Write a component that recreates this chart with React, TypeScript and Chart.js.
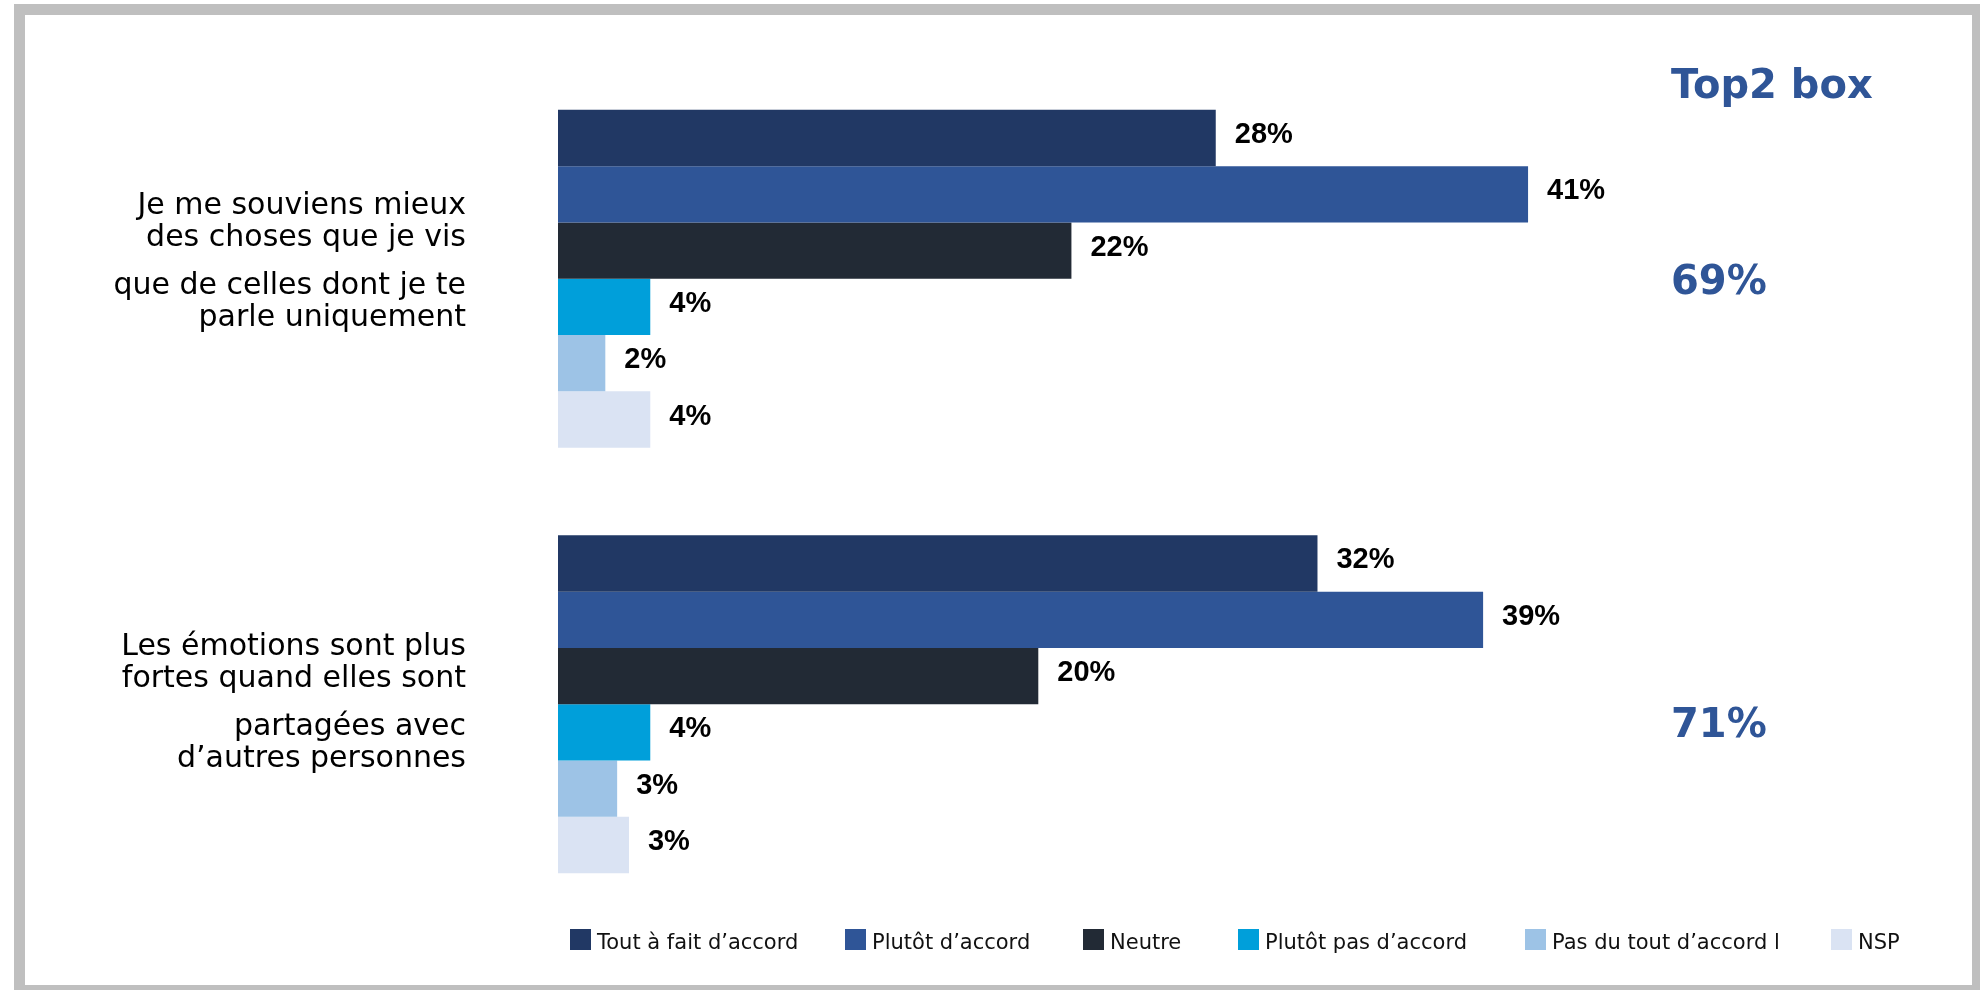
import React, { useEffect, useRef } from "react";
import { Chart, registerables } from "chart.js";

Chart.register(...registerables);

// ---- data ----
const categories: string[][] = [
  ["Je me souviens mieux", "des choses que je vis", "que de celles dont je te", "parle uniquement"],
  ["Les émotions sont plus", "fortes quand elles sont", "partagées avec", "d’autres personnes"],
];
const seriesNames: string[] = [
  "Tout à fait d’accord",
  "Plutôt d’accord",
  "Neutre",
  "Plutôt pas d’accord",
  "Pas du tout d’accord l",
  "NSP",
];
const toutAFaitDAccord: number[] = [27.8, 32.1];
const plutotDAccord: number[] = [41.0, 39.1];
const neutre: number[] = [21.7, 20.3];
const plutotPasDAccord: number[] = [3.9, 3.9];
const pasDuToutDAccord: number[] = [2.0, 2.5];
const nsp: number[] = [3.9, 3.0];
const topTwoTitle = "Top2 box";
const topTwoValues: number[] = [69, 71];

// ---- styles / layout ----
const seriesColors = ["#213864", "#2F5597", "#222A35", "#009FDA", "#9DC3E6", "#DAE3F3"];
const legendLeft = [570, 845, 1083, 1238, 1525, 1831];
const topTwoOffsets = [15, 33];
const labelShift = [-1, 1]; // shift each tick label block by half a line (up / down)
const FONT = "'DejaVu Sans', 'Noto Sans', sans-serif";

// lay the four lines out as two tight pairs separated by a wider gap
function tickLines(index: number): string[] {
  const l = categories[index] || [];
  const body = [l[0], "", l[1], "", "", l[2], "", l[3]];
  return labelShift[index] < 0 ? [...body, ""] : ["", ...body];
}

const overlayPlugin = {
  id: "overlayLabels",
  afterDatasetsDraw(chart: any) {
    const ctx = chart.ctx as CanvasRenderingContext2D;
    ctx.save();
    ctx.font = "bold 29px 'Liberation Sans', Arial, sans-serif";
    ctx.fillStyle = "#000000";
    ctx.textAlign = "left";
    ctx.textBaseline = "middle";
    chart.data.datasets.forEach((ds: any, di: number) => {
      const meta = chart.getDatasetMeta(di);
      meta.data.forEach((bar: any, i: number) => {
        const v = ds.data[i] as number;
        ctx.fillText(Math.round(v) + "%", bar.x + 19, bar.y - 3);
      });
    });
    const yScale = chart.scales.y;
    ctx.font = `bold 40px ${FONT}`;
    ctx.fillStyle = "#2F5597";
    ctx.textBaseline = "alphabetic";
    ctx.fillText(topTwoTitle, 1671, 98);
    topTwoValues.forEach((v, i) => {
      ctx.fillText(v + "%", 1671, yScale.getPixelForValue(i) + topTwoOffsets[i]);
    });
    ctx.restore();
  },
};

function BarChart() {
  const canvasRef = useRef<HTMLCanvasElement | null>(null);

  useEffect(() => {
    if (!canvasRef.current) return;
    const series = [toutAFaitDAccord, plutotDAccord, neutre, plutotPasDAccord, pasDuToutDAccord, nsp];
    const chart = new Chart(canvasRef.current, {
      type: "bar",
      data: {
        labels: categories,
        datasets: series.map((d, i) => ({
          label: seriesNames[i],
          data: d,
          backgroundColor: seriesColors[i],
          borderWidth: 0,
        })),
      },
      options: {
        indexAxis: "y",
        animation: false,
        responsive: false,
        maintainAspectRatio: false,
        layout: { padding: { left: 0, right: 239, top: 66, bottom: 73 } },
        datasets: { bar: { categoryPercentage: 0.794, barPercentage: 1 } },
        scales: {
          x: { display: false, min: 0, max: 50 },
          y: {
            grid: { display: false, drawTicks: false },
            border: { display: false },
            afterFit: (s: any) => {
              s.width = 558;
              s.paddingTop = 0;
              s.paddingBottom = 0;
            },
            ticks: {
              padding: 92,
              color: "#000000",
              labelOffset: -9,
              callback: (_v: any, index: number) => tickLines(index),
              font: { family: FONT, size: 30, lineHeight: "16px" },
            },
          },
        },
        plugins: {
          legend: { display: false },
          tooltip: { enabled: false },
        },
      } as any,
      plugins: [overlayPlugin],
    });
    return () => chart.destroy();
  }, []);

  return (
    <canvas
      ref={canvasRef}
      width={1980}
      height={990}
      style={{ position: "absolute", left: 0, top: 0, width: 1980, height: 990 }}
    />
  );
}

export default function App() {
  return (
    <div
      style={{
        position: "absolute",
        left: 0,
        top: 0,
        width: 1980,
        height: 990,
        overflow: "hidden",
        background: "#ffffff",
      }}
    >
      <div
        style={{
          position: "absolute",
          left: 14,
          top: 4,
          width: 1969,
          height: 992,
          border: "11px solid #BFBFBF",
          boxSizing: "border-box",
          background: "#ffffff",
        }}
      />
      <BarChart />
      {seriesNames.map((name, i) => (
        <div
          key={name}
          style={{
            position: "absolute",
            left: legendLeft[i],
            top: 929,
            height: 21,
            display: "flex",
            alignItems: "center",
            whiteSpace: "nowrap",
          }}
        >
          <span style={{ display: "inline-block", width: 21, height: 21, background: seriesColors[i] }} />
          <span
            style={{
              marginLeft: 6,
              font: `21px ${FONT}`,
              color: "#111111",
              position: "relative",
              top: 2,
            }}
          >
            {name}
          </span>
        </div>
      ))}
    </div>
  );
}
